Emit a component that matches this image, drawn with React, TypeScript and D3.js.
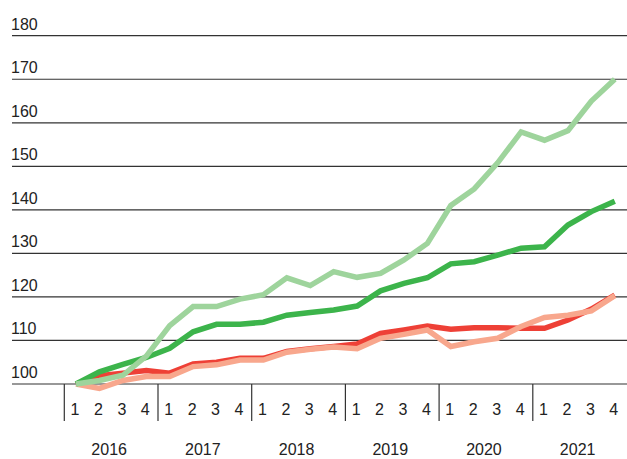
import React from "react";
import * as d3 from "d3";

const years = ["2016", "2017", "2018", "2019", "2020", "2021"];
const quarters = ["1", "2", "3", "4"];
const yTicks = [100, 110, 120, 130, 140, 150, 160, 170, 180];

const darkGreen = [100, 102.8, 104.5, 106.1, 108.2, 112, 113.7, 113.7, 114.2, 115.8, 116.4, 117, 117.9, 121.4, 123.1, 124.4, 127.6, 128.1, 129.6, 131.2, 131.5, 136.5, 139.6, 142];
const lightGreen = [100, 100.8, 102, 106.4, 113.4, 117.8, 117.8, 119.5, 120.5, 124.4, 122.6, 125.8, 124.5, 125.4, 128.5, 132.3, 141, 144.8, 150.8, 157.9, 156, 158.2, 165, 170];
const red = [100, 101.9, 102.5, 103.1, 102.5, 104.6, 105, 105.9, 105.9, 107.5, 108.1, 108.6, 109.2, 111.6, 112.4, 113.3, 112.6, 112.9, 112.9, 112.8, 112.8, 114.7, 117.2, 120.4];
const salmon = [100, 99, 100.8, 101.7, 101.7, 104, 104.4, 105.5, 105.5, 107.3, 108, 108.5, 108.1, 110.5, 111.4, 112.4, 108.6, 109.7, 110.5, 113.2, 115.3, 115.8, 116.8, 120.3];

const series = [
  { name: "red", values: red, color: "#ee4036" },
  { name: "salmon", values: salmon, color: "#f8a78d" },
  { name: "darkGreen", values: darkGreen, color: "#3cb44b" },
  { name: "lightGreen", values: lightGreen, color: "#9ed49c" },
];

export default function App() {
  const W = 627;
  const H = 459;
  const keys: string[] = [];
  years.forEach((y) => quarters.forEach((q) => keys.push(y + "-" + q)));
  const x = d3.scaleBand<string>().domain(keys).range([64.3, 626.5]).padding(0);
  const xYear = d3.scaleBand<string>().domain(years).range([64.3, 626.5]).padding(0);
  const y = d3.scaleLinear().domain([100, 180]).range([384, 35.7]);
  const line = d3
    .line<number>()
    .x((_, i) => (x(keys[i]) as number) + x.bandwidth() / 2)
    .y((d) => y(d));
  const font = "'Liberation Sans', Arial, Helvetica, sans-serif";
  return (
    <svg
      width={W}
      height={H}
      style={{ position: "absolute", left: 0, top: 0, background: "#fff" }}
      fontFamily={font}
    >
      {yTicks.map((t) => (
        <g key={t}>
          <line x1={12} x2={627} y1={y(t)} y2={y(t)} stroke="#333" strokeWidth={1.2} />
          <text x={11} y={y(t) - 6} fontSize={16} fill="#222">
            {t}
          </text>
        </g>
      ))}
      {years.map((yr) => (
        <g key={yr}>
          <line
            x1={xYear(yr) as number}
            x2={xYear(yr) as number}
            y1={y(100)}
            y2={421}
            stroke="#333"
            strokeWidth={1.2}
          />
          <text
            x={(xYear(yr) as number) + xYear.bandwidth() / 2 - 2}
            y={455}
            fontSize={16}
            textAnchor="middle"
            fill="#222"
          >
            {yr}
          </text>
        </g>
      ))}
      {keys.map((k, i) => (
        <text
          key={k}
          x={(x(k) as number) + x.bandwidth() / 2 - 1}
          y={415}
          fontSize={16}
          textAnchor="middle"
          fill="#222"
        >
          {quarters[i % 4]}
        </text>
      ))}
      {series.map((s) => (
        <path
          key={s.name}
          d={line(s.values) as string}
          fill="none"
          stroke={s.color}
          strokeWidth={5.5}
          strokeLinejoin="miter"
        />
      ))}
    </svg>
  );
}
